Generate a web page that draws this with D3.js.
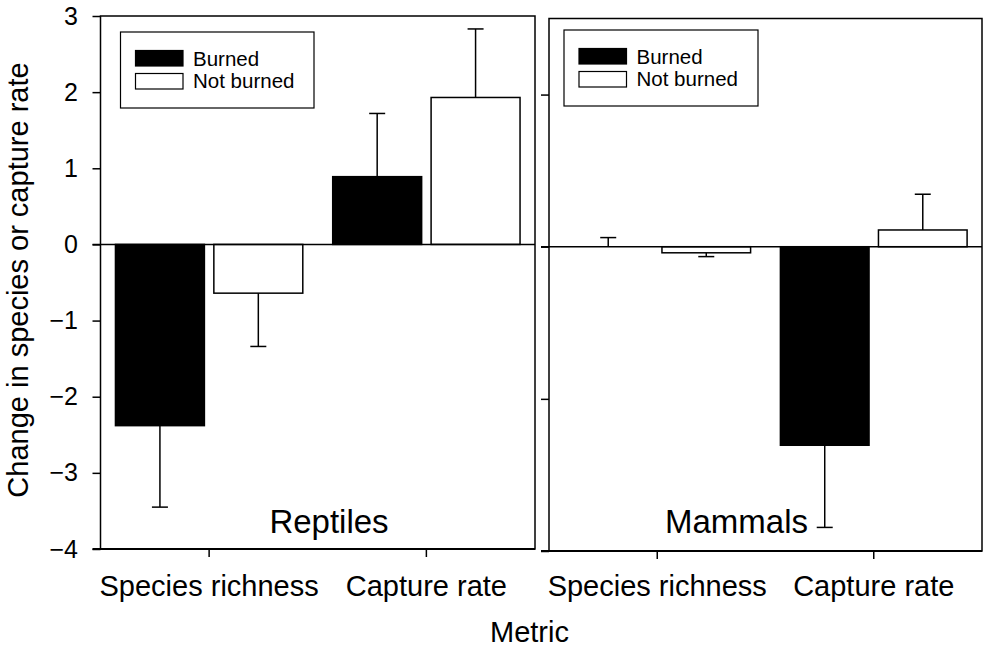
<!DOCTYPE html>
<html>
<head>
<meta charset="utf-8">
<script src="https://cdn.jsdelivr.net/npm/d3@7"></script>
<style>
  html, body { margin: 0; padding: 0; background: #fff; }
  svg { display: block; font-family: "Liberation Sans", Arial, sans-serif; }
</style>
</head>
<body>
<svg id="chart" width="988" height="651"></svg>
<script>
// ---- data ----
const categories = ["Species richness", "Capture rate"];
const groups = ["Burned", "Not burned"];
const panelNames = ["Reptiles", "Mammals"];
const yTickValues = [-4, -3, -2, -1, 0, 1, 2, 3];
const rightTickValues = [-4, -2, 0, 2];

const reptilesBurned = [-2.38, 0.89];
const reptilesBurnedSE = [1.07, 0.83];
const reptilesNotBurned = [-0.64, 1.93];
const reptilesNotBurnedSE = [0.70, 0.90];

const mammalsBurned = [0.0, -2.61];
const mammalsBurnedSE = [0.12, 1.08];
const mammalsNotBurned = [-0.08, 0.22];
const mammalsNotBurnedSE = [0.05, 0.47];

const fills = { "Burned": "#000", "Not burned": "#fff" };

function rows(b, bse, nb, nbse) {
  const out = [];
  categories.forEach((c, i) => {
    out.push({ cat: c, grp: "Burned", v: b[i], se: bse[i] });
    out.push({ cat: c, grp: "Not burned", v: nb[i], se: nbse[i] });
  });
  return out;
}

const panels = [
  { name: panelNames[0], data: rows(reptilesBurned, reptilesBurnedSE, reptilesNotBurned, reptilesNotBurnedSE),
    x0: 100.5, x1: 535, top: 16, bottom: 549, labels: true, ticks: yTickValues,
    legend: { x: 120.5, y: 32, w: 193.5, h: 76 }, labelX: 329 },
  { name: panelNames[1], data: rows(mammalsBurned, mammalsBurnedSE, mammalsNotBurned, mammalsNotBurnedSE),
    x0: 549, x1: 982, top: 18.5, bottom: 551, labels: false, ticks: rightTickValues,
    legend: { x: 564, y: 30, w: 194, h: 76 }, labelX: 736.5 }
];

const svg = d3.select("#chart");

panels.forEach(p => {
  const g = svg.append("g");
  const x = d3.scaleBand().domain(categories).range([p.x0, p.x1]);
  const xs = d3.scaleBand().domain(groups).range([0, x.bandwidth()])
    .paddingInner(0.096).paddingOuter(0.152);
  const y = d3.scaleLinear().domain([-4, 3]).range([p.bottom, p.top]);

  // frame
  g.append("rect")
    .attr("x", p.x0).attr("y", p.top)
    .attr("width", p.x1 - p.x0).attr("height", p.bottom - p.top)
    .attr("fill", "none").attr("stroke", "#000").attr("stroke-width", 1.5);

  // y axis
  const ya = d3.axisLeft(y).tickValues(p.ticks).tickSize(8).tickPadding(14.5)
    .tickFormat(p.labels ? d3.format("d") : () => "");
  const yg = g.append("g").attr("transform", `translate(${p.x0},0)`).call(ya);
  yg.select(".domain").remove();
  yg.selectAll("line").attr("stroke", "#000").attr("stroke-width", 1.5);
  yg.selectAll("text").attr("font-size", 25).attr("fill", "#000")
    .attr("font-family", "Liberation Sans, Arial, sans-serif");

  // x axis
  const xa = d3.axisBottom(x).tickSize(8).tickPadding(p.labels ? 18.5 : 16.5);
  const xg = g.append("g").attr("transform", `translate(0,${p.bottom})`).call(xa);
  xg.select(".domain").remove();
  xg.selectAll("line").attr("stroke", "#000").attr("stroke-width", 1.5);
  xg.selectAll("text").attr("font-size", 29).attr("fill", "#000")
    .attr("font-family", "Liberation Sans, Arial, sans-serif");

  // thicker bottom line
  g.append("line").attr("x1", p.x0 - 8).attr("x2", p.x1)
    .attr("y1", p.bottom).attr("y2", p.bottom)
    .attr("stroke", "#000").attr("stroke-width", 2);

  // bars
  g.selectAll("rect.bar").data(p.data).join("rect").attr("class", "bar")
    .attr("x", d => x(d.cat) + xs(d.grp))
    .attr("width", xs.bandwidth())
    .attr("y", d => y(Math.max(0, d.v)))
    .attr("height", d => Math.abs(y(d.v) - y(0)))
    .attr("fill", d => fills[d.grp])
    .attr("stroke", "#000").attr("stroke-width", d => d.v === 0 ? 0 : 1.5);

  // error bars (one-sided, away from zero)
  const eb = g.selectAll("g.err").data(p.data).join("g").attr("class", "err");
  const cx = d => x(d.cat) + xs(d.grp) + xs.bandwidth() / 2;
  const tip = d => d.v < 0 ? d.v - d.se : d.v + d.se;
  eb.append("line")
    .attr("x1", cx).attr("x2", cx)
    .attr("y1", d => y(d.v)).attr("y2", d => y(tip(d)))
    .attr("stroke", "#000").attr("stroke-width", 1.5);
  eb.append("line")
    .attr("x1", d => cx(d) - 8).attr("x2", d => cx(d) + 8)
    .attr("y1", d => y(tip(d))).attr("y2", d => y(tip(d)))
    .attr("stroke", "#000").attr("stroke-width", 1.5);

  // zero line
  g.append("line").attr("x1", p.x0 - 8).attr("x2", p.x1)
    .attr("y1", y(0)).attr("y2", y(0))
    .attr("stroke", "#000").attr("stroke-width", 1.5);

  // legend
  const L = p.legend;
  const lg = g.append("g");
  lg.append("rect").attr("x", L.x).attr("y", L.y).attr("width", L.w).attr("height", L.h)
    .attr("fill", "#fff").attr("stroke", "#000").attr("stroke-width", 1.2);
  groups.forEach((grp, i) => {
    lg.append("rect").attr("x", L.x + 15).attr("y", L.y + 18.5 + i * 23)
      .attr("width", 47.5).attr("height", 15.5)
      .attr("fill", fills[grp]).attr("stroke", "#000").attr("stroke-width", 1.2);
    lg.append("text").attr("x", L.x + 72.5).attr("y", L.y + 33.5 + i * 22.6)
      .attr("font-size", 20.5).attr("fill", "#000").text(grp);
  });

  // panel label
  g.append("text").attr("x", p.labelX).attr("y", 533)
    .attr("text-anchor", "middle").attr("font-size", 33).attr("fill", "#000")
    .text(p.name);
});

// axis titles
svg.append("text")
  .attr("transform", "translate(28,280) rotate(-90)")
  .attr("text-anchor", "middle").attr("font-size", 29).attr("fill", "#000")
  .text("Change in species or capture rate");

svg.append("text")
  .attr("x", 529.5).attr("y", 642)
  .attr("text-anchor", "middle").attr("font-size", 29).attr("fill", "#000")
  .text("Metric");
</script>
</body>
</html>
